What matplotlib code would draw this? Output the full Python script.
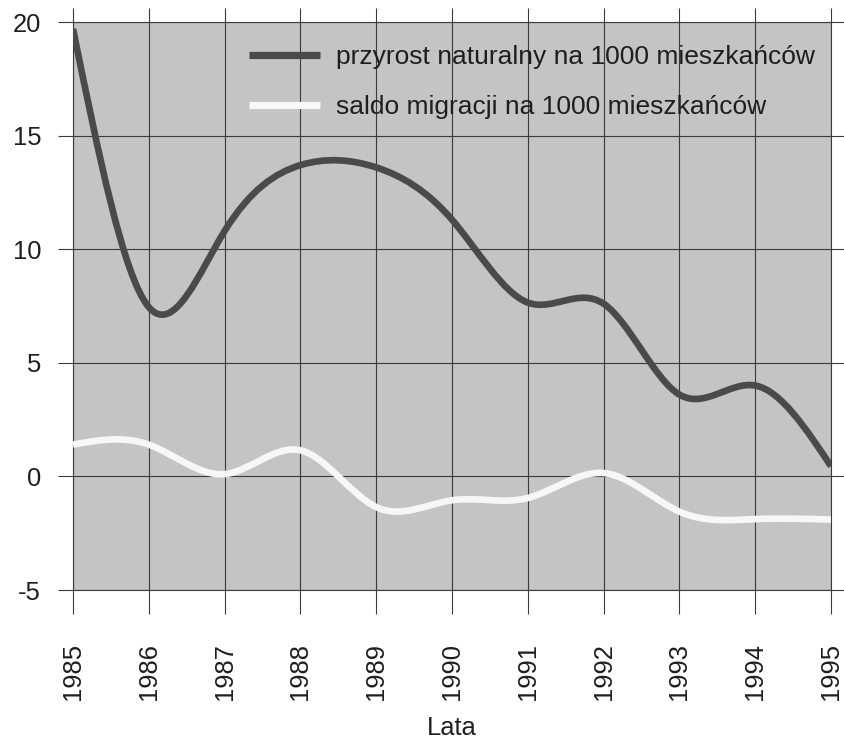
import numpy as np
import matplotlib
matplotlib.use("Agg")
import matplotlib.pyplot as plt
from matplotlib.path import Path
from matplotlib.patches import PathPatch
from matplotlib.lines import Line2D

lata = [1985, 1986, 1987, 1988, 1989, 1990, 1991, 1992, 1993, 1994, 1995]
przyrost = [19.7, 7.45, 10.8, 13.7, 13.6, 11.3, 7.65, 7.6, 3.6, 4.0, 0.45]
saldo = [1.4, 1.4, 0.1, 1.15, -1.35, -1.05, -0.95, 0.15, -1.55, -1.88, -1.9]
y_ticks = [-5, 0, 5, 10, 15, 20]

etykieta_1 = "przyrost naturalny na 1000 mieszkańców"
etykieta_2 = "saldo migracji na 1000 mieszkańców"

plt.rcParams["font.family"] = ["Liberation Sans", "DejaVu Sans"]
plt.rcParams["axes.unicode_minus"] = False

KOL_CIEMNY = "#4a4a4a"
KOL_JASNY = "#f7f7f7"
KOL_SIATKA = "#3a3a3a"
KOL_TEKST = "#1e1e1e"

W, H = 844, 747
fig = plt.figure(figsize=(W / 100, H / 100), dpi=100)
ax = fig.add_axes([73 / W, 1 - 590 / H, (831 - 73) / W, (590 - 22) / H])
ax.set_facecolor("#c4c4c4")
ax.set_xlim(1985, 1995)
ax.set_ylim(-5, 20)


def nachylenia(y):
    # slopes of a natural cubic spline (equal spacing)
    y = np.asarray(y, float)
    n = len(y)
    A = np.zeros((n, n))
    r = np.zeros(n)
    A[0, 0], A[0, 1], r[0] = 2, 1, 3 * (y[1] - y[0])
    A[-1, -1], A[-1, -2], r[-1] = 2, 1, 3 * (y[-1] - y[-2])
    for i in range(1, n - 1):
        A[i, i - 1], A[i, i], A[i, i + 1] = 1, 4, 1
        r[i] = 3 * (y[i + 1] - y[i - 1])
    return np.linalg.solve(A, r)


def gladka(x, y):
    # the spline written as bezier segments, matplotlib draws the curve
    x = np.asarray(x, float)
    y = np.asarray(y, float)
    m = nachylenia(y)
    verts = [(x[0], y[0])]
    codes = [Path.MOVETO]
    for i in range(len(x) - 1):
        h = x[i + 1] - x[i]
        verts += [(x[i] + h / 3, y[i] + m[i] * h / 3),
                  (x[i + 1] - h / 3, y[i + 1] - m[i + 1] * h / 3),
                  (x[i + 1], y[i + 1])]
        codes += [Path.CURVE4] * 3
    return Path(verts, codes)


for yy, kol in [(przyrost, KOL_CIEMNY), (saldo, KOL_JASNY)]:
    ax.add_patch(PathPatch(gladka(lata, yy), facecolor="none", edgecolor=kol,
                           lw=4.8, capstyle="butt", zorder=3))

ax.set_xticks(lata)
ax.set_yticks(y_ticks)
ax.grid(True, color=KOL_SIATKA, lw=0.8)
ax.set_axisbelow(True)
for s in ax.spines.values():
    s.set_color(KOL_SIATKA)
    s.set_linewidth(0.8)

ax.tick_params(axis="x", length=17, width=0.8, color=KOL_SIATKA, pad=21,
               labelrotation=90, labelsize=18.4, labelcolor=KOL_TEKST)
ax.tick_params(axis="y", length=11, width=0.8, color=KOL_SIATKA, pad=12,
               labelsize=18.4, labelcolor=KOL_TEKST)

# gridlines poking out above and to the right
top = ax.secondary_xaxis("top")
top.set_xticks(lata)
top.tick_params(length=10, width=0.8, color=KOL_SIATKA, labeltop=False)
top.spines["top"].set_visible(False)
right = ax.secondary_yaxis("right")
right.set_yticks(y_ticks)
right.tick_params(length=10, width=0.8, color=KOL_SIATKA, labelright=False)
right.spines["right"].set_visible(False)

ax.set_xlabel("Lata", fontsize=18.4, color=KOL_TEKST, labelpad=12)

uchwyty = [Line2D([], [], color=KOL_CIEMNY, lw=5.2, solid_capstyle="butt"),
           Line2D([], [], color=KOL_JASNY, lw=5.2, solid_capstyle="butt")]
ax.legend(uchwyty, [etykieta_1, etykieta_2], loc="upper left",
          bbox_to_anchor=(0.215, 0.982), frameon=False, fontsize=19,
          borderpad=0, handlelength=2.7, handletextpad=0.6,
          labelspacing=0.97, labelcolor=KOL_TEKST)

fig.savefig("out.png", dpi=100)
